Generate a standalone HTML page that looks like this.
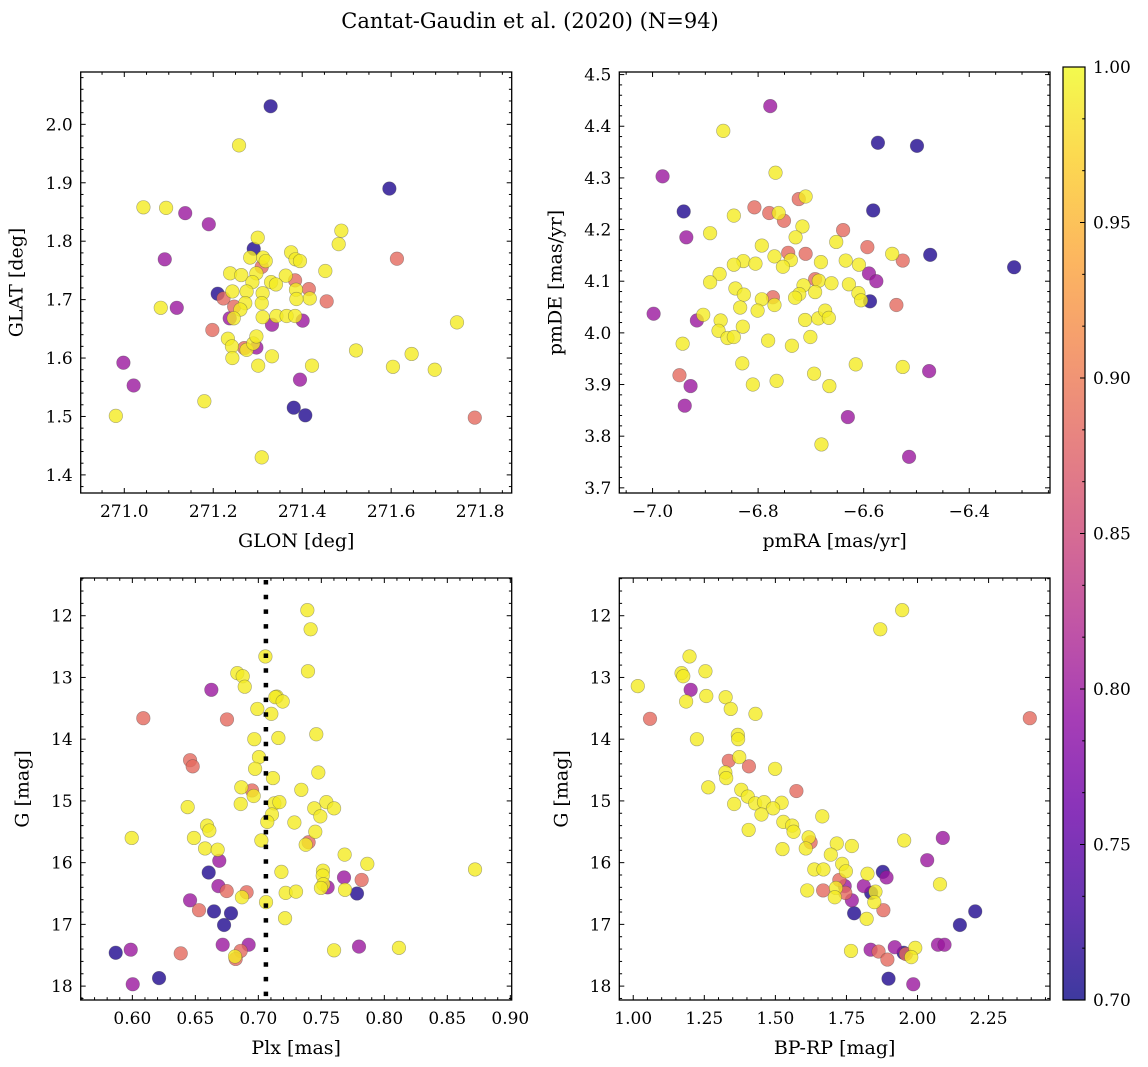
<!DOCTYPE html>
<html><head><meta charset="utf-8"><title>Cantat-Gaudin et al. (2020)</title>
<style>
html,body{margin:0;padding:0;background:#fff;}
svg{display:block;font-family:"DejaVu Serif","Liberation Serif",serif;}
</style></head>
<body>
<svg id="fig" width="1148" height="1067" viewBox="0 0 1148 1067" xmlns="http://www.w3.org/2000/svg">
<defs>
<linearGradient id="plasma" x1="0" y1="1" x2="0" y2="0">
<stop offset="0" stop-color="#0d0887"/><stop offset="0.1" stop-color="#41049d"/><stop offset="0.2" stop-color="#6a00a8"/><stop offset="0.3" stop-color="#8f0da4"/><stop offset="0.4" stop-color="#b12a90"/><stop offset="0.5" stop-color="#cc4778"/><stop offset="0.6" stop-color="#e16462"/><stop offset="0.7" stop-color="#f2844b"/><stop offset="0.8" stop-color="#fca636"/><stop offset="0.9" stop-color="#fcce25"/><stop offset="1" stop-color="#f0f921"/>
</linearGradient>
</defs>
<text x="530" y="28" font-size="21" text-anchor="middle">Cantat-Gaudin et al. (2020) (N=94)</text>
</svg>
<script>
// ---- data ----
const p1x=[271.329,271.258,271.596,271.043,271.094,271.137,271.190,271.488,271.482,271.300,271.291,271.091,271.613,271.283,271.312,271.318,271.375,271.385,271.395,271.452,271.238,271.263,271.297,271.309,271.363,271.384,271.330,271.341,271.288,271.386,271.415,271.455,271.417,271.387,271.210,271.223,271.243,271.275,271.311,271.309,271.272,271.247,271.261,271.082,271.118,271.237,271.246,271.311,271.332,271.342,271.365,271.384,271.401,271.198,271.233,271.242,271.270,271.275,271.297,271.290,271.297,271.243,271.332,271.301,271.422,271.395,271.521,271.604,271.646,271.698,271.748,270.998,271.021,271.180,270.981,271.381,271.407,271.309,271.788];
const p1y=[2.031,1.964,1.890,1.858,1.857,1.848,1.829,1.818,1.795,1.806,1.787,1.769,1.770,1.772,1.772,1.766,1.781,1.769,1.766,1.749,1.745,1.742,1.745,1.756,1.741,1.733,1.730,1.726,1.730,1.717,1.718,1.697,1.702,1.701,1.710,1.702,1.714,1.714,1.711,1.694,1.694,1.688,1.683,1.686,1.686,1.668,1.668,1.670,1.657,1.672,1.672,1.672,1.664,1.648,1.633,1.620,1.617,1.614,1.618,1.625,1.637,1.600,1.603,1.587,1.587,1.563,1.613,1.585,1.607,1.580,1.661,1.592,1.553,1.526,1.501,1.515,1.502,1.430,1.498];
const p1c=[.71,.99,.71,.99,.99,.80,.80,.99,.99,.99,.71,.80,.885,.99,.99,.99,.99,.99,.99,.99,.99,.99,.99,.885,.99,.885,.99,.99,.99,.99,.885,.885,.99,.99,.71,.885,.99,.99,.99,.99,.99,.885,.99,.99,.80,.80,.99,.99,.80,.99,.99,.99,.80,.885,.99,.99,.885,.99,.80,.99,.99,.99,.99,.99,.99,.80,.99,.99,.99,.99,.99,.80,.80,.99,.99,.71,.71,.99,.885];

const p2x=[-6.777,-6.866,-6.573,-6.499,-6.981,-6.767,-6.941,-6.582,-6.846,-6.807,-6.779,-6.761,-6.751,-6.723,-6.710,-6.716,-6.729,-6.891,-6.936,-6.639,-6.652,-6.593,-6.793,-6.743,-6.710,-6.769,-6.738,-6.753,-6.681,-6.634,-6.609,-6.546,-6.526,-6.474,-6.315,-6.590,-6.576,-6.828,-6.846,-6.805,-6.873,-6.891,-6.692,-6.685,-6.714,-6.661,-6.692,-6.722,-6.730,-6.843,-6.827,-6.772,-6.793,-6.769,-6.628,-6.610,-6.605,-6.588,-6.538,-6.834,-6.801,-6.998,-6.916,-6.904,-6.871,-6.875,-6.858,-6.846,-6.829,-6.711,-6.686,-6.673,-6.666,-6.701,-6.781,-6.736,-6.943,-6.830,-6.615,-6.526,-6.476,-6.694,-6.665,-6.765,-6.810,-6.949,-6.928,-6.939,-6.630,-6.680,-6.514];
const p2y=[4.439,4.391,4.368,4.362,4.303,4.310,4.235,4.237,4.227,4.243,4.232,4.232,4.217,4.259,4.264,4.206,4.185,4.193,4.185,4.199,4.176,4.166,4.169,4.155,4.153,4.148,4.141,4.128,4.137,4.140,4.132,4.153,4.140,4.151,4.127,4.115,4.100,4.139,4.132,4.134,4.114,4.098,4.104,4.101,4.092,4.096,4.079,4.075,4.068,4.086,4.074,4.069,4.065,4.054,4.094,4.077,4.063,4.061,4.054,4.049,4.043,4.037,4.024,4.035,4.024,4.004,3.990,3.992,4.012,4.025,4.028,4.043,4.029,3.992,3.985,3.975,3.979,3.941,3.939,3.934,3.926,3.921,3.897,3.907,3.900,3.918,3.897,3.859,3.837,3.784,3.760];
const p2c=[.80,.99,.71,.71,.80,.99,.71,.71,.99,.885,.885,.99,.885,.885,.99,.99,.99,.99,.80,.885,.99,.885,.99,.885,.885,.99,.99,.99,.99,.99,.99,.99,.885,.71,.71,.80,.80,.99,.99,.99,.99,.99,.885,.99,.99,.99,.99,.99,.99,.99,.99,.885,.99,.99,.99,.99,.99,.71,.885,.99,.99,.80,.80,.99,.99,.99,.99,.99,.99,.99,.99,.99,.99,.99,.99,.99,.99,.99,.99,.99,.80,.99,.99,.99,.99,.885,.80,.80,.80,.99,.80];

const p3x=[0.7389,0.7415,0.7056,0.7394,0.6833,0.6876,0.6892,0.6627,0.7146,0.7135,0.7193,0.6992,0.7103,0.6087,0.6751,0.6968,0.7159,0.7460,0.7005,0.6458,0.6479,0.6974,0.7476,0.7116,0.6865,0.6950,0.6963,0.7341,0.6860,0.6439,0.7127,0.7167,0.7444,0.7540,0.7601,0.7492,0.7108,0.7071,0.7286,0.7452,0.6593,0.6611,0.5995,0.6489,0.7024,0.7399,0.7376,0.6577,0.6677,0.6690,0.7685,0.7865,0.8720,0.6606,0.7183,0.7513,0.7511,0.7680,0.7820,0.7516,0.7550,0.7497,0.7688,0.7783,0.6683,0.6749,0.6907,0.6870,0.7217,0.7299,0.7061,0.6458,0.6529,0.6648,0.6783,0.6728,0.7212,0.5987,0.5868,0.6384,0.6717,0.6923,0.6860,0.6820,0.6815,0.7601,0.7799,0.8116,0.6212,0.6003];
const p3y=[11.91,12.22,12.66,12.90,12.93,12.98,13.15,13.20,13.31,13.32,13.39,13.51,13.59,13.66,13.68,14.00,13.98,13.92,14.29,14.34,14.44,14.48,14.54,14.63,14.78,14.83,14.92,14.82,15.05,15.10,15.04,15.02,15.12,15.02,15.12,15.25,15.22,15.34,15.35,15.50,15.40,15.48,15.60,15.60,15.64,15.67,15.71,15.77,15.79,15.97,15.87,16.02,16.11,16.16,16.15,16.13,16.21,16.24,16.28,16.35,16.40,16.41,16.44,16.50,16.38,16.46,16.48,16.56,16.49,16.47,16.64,16.61,16.77,16.79,16.82,17.01,16.90,17.41,17.46,17.47,17.33,17.33,17.43,17.56,17.52,17.42,17.36,17.38,17.87,17.97];
const p3c=[.99,.99,.99,.99,.99,.99,.99,.80,.99,.99,.99,.99,.99,.885,.885,.99,.99,.99,.99,.885,.885,.99,.99,.99,.99,.885,.99,.99,.99,.99,.99,.99,.99,.99,.99,.99,.99,.99,.99,.99,.99,.99,.99,.99,.99,.885,.99,.99,.99,.80,.99,.99,.99,.71,.99,.99,.99,.80,.885,.99,.80,.99,.99,.71,.80,.885,.885,.99,.99,.99,.99,.80,.885,.71,.71,.71,.99,.80,.71,.885,.80,.80,.885,.885,.99,.99,.80,.99,.71,.80];
const plxMean=0.706;

const p4x=[1.946,1.869,1.198,1.254,1.170,1.176,1.016,1.202,1.257,1.325,1.186,1.343,1.430,1.059,2.395,1.224,1.368,1.369,1.373,1.336,1.407,1.499,1.324,1.327,1.264,1.574,1.380,1.403,1.355,1.429,1.460,1.522,1.492,1.451,1.528,1.665,1.559,1.564,1.406,1.617,1.624,1.607,1.525,1.716,1.769,1.953,2.089,2.034,1.695,1.735,1.748,1.637,1.669,1.824,1.878,1.891,2.079,1.725,1.744,1.811,1.713,1.852,1.837,1.612,1.668,1.709,1.746,1.769,1.848,1.880,1.777,1.821,2.149,2.203,1.766,1.835,1.863,1.920,1.951,1.959,1.992,1.978,1.894,2.072,2.095,1.898,1.985];
const p4y=[11.91,12.22,12.66,12.90,12.93,12.98,13.14,13.20,13.30,13.32,13.39,13.51,13.59,13.67,13.66,14.00,13.93,14.00,14.29,14.35,14.44,14.48,14.54,14.63,14.78,14.84,14.82,14.93,15.05,15.04,15.02,15.03,15.12,15.22,15.34,15.25,15.40,15.50,15.47,15.59,15.67,15.77,15.78,15.69,15.73,15.64,15.60,15.96,15.87,16.02,16.14,16.11,16.11,16.18,16.15,16.24,16.35,16.28,16.38,16.38,16.41,16.47,16.49,16.45,16.45,16.56,16.49,16.61,16.64,16.77,16.82,16.91,17.01,16.79,17.43,17.41,17.44,17.37,17.46,17.48,17.38,17.53,17.57,17.33,17.33,17.88,17.97];
const p4c=[.99,.99,.99,.99,.99,.99,.99,.80,.99,.99,.99,.99,.99,.885,.885,.99,.99,.99,.99,.885,.885,.99,.99,.99,.99,.885,.99,.99,.99,.99,.99,.99,.99,.99,.99,.99,.99,.99,.99,.99,.885,.99,.99,.99,.99,.99,.80,.80,.99,.99,.99,.99,.99,.99,.71,.80,.99,.885,.80,.80,.99,.99,.71,.99,.885,.99,.885,.80,.99,.885,.71,.99,.71,.71,.99,.80,.885,.80,.71,.885,.99,.99,.885,.80,.80,.71,.80];

const tick1x=[271.0,271.2,271.4,271.6,271.8], tick1xLab=["271.0","271.2","271.4","271.6","271.8"];
const tick1y=[1.4,1.5,1.6,1.7,1.8,1.9,2.0], tick1yLab=["1.4","1.5","1.6","1.7","1.8","1.9","2.0"];
const tick2x=[-7.0,-6.8,-6.6,-6.4], tick2xLab=["\u22127.0","\u22126.8","\u22126.6","\u22126.4"];
const tick2y=[3.7,3.8,3.9,4.0,4.1,4.2,4.3,4.4,4.5], tick2yLab=["3.7","3.8","3.9","4.0","4.1","4.2","4.3","4.4","4.5"];
const tick3x=[0.60,0.65,0.70,0.75,0.80,0.85,0.90], tick3xLab=["0.60","0.65","0.70","0.75","0.80","0.85","0.90"];
const tickGy=[12,13,14,15,16,17,18], tickGyLab=["12","13","14","15","16","17","18"];
const tick4x=[1.00,1.25,1.50,1.75,2.00,2.25], tick4xLab=["1.00","1.25","1.50","1.75","2.00","2.25"];
const cbTicks=[0.70,0.75,0.80,0.85,0.90,0.95,1.00], cbLab=["0.70","0.75","0.80","0.85","0.90","0.95","1.00"];

// ---- colormap ----
const stops=[[13,8,135],[65,4,157],[106,0,168],[143,13,164],[177,42,144],[204,71,120],[225,100,98],[242,132,75],[252,166,54],[252,206,37],[240,249,33]];
function plasma(v){let t=(v-0.7)/0.3;t=Math.max(0,Math.min(1,t));const f=t*10,i=Math.min(9,Math.floor(f)),r=f-i;
 const a=stops[i],b=stops[i+1];return 'rgb('+a.map((c,k)=>Math.round(c+(b[k]-c)*r)).join(',')+')';}

const NS='http://www.w3.org/2000/svg';
const svg=document.getElementById('fig');
function mk(tag,attrs,parent){const e=document.createElementNS(NS,tag);for(const k in attrs)e.setAttribute(k,attrs[k]);(parent||svg).appendChild(e);return e;}

function panel(o){
 const g=mk('g',{});
 
 
 const L=o.L,R=o.R,T=o.T,B=o.B;
 const sx=v=>L+(v-o.x0)/(o.x1-o.x0)*(R-L);
 const sy=v=>o.inv? T+(v-o.y0)/(o.y1-o.y0)*(B-T) : B-(v-o.y0)/(o.y1-o.y0)*(B-T);
 const idx=o.xs.map((_,i)=>i).sort((a,b)=>o.cs[a]-o.cs[b]);
 const pg=mk('g',{},g);
 
 
 idx.forEach(i=>{
  const c=mk('circle',{cx:sx(o.xs[i]).toFixed(2),cy:sy(o.ys[i]).toFixed(2),r:6.8,fill:plasma(o.cs[i]),'fill-opacity':0.8,stroke:'#444','stroke-opacity':0.45,'stroke-width':0.6},pg);
  
  
 });
 if(o.vline!==undefined){
  const ln=mk('line',{x1:sx(o.vline),x2:sx(o.vline),y1:T+2,y2:B,stroke:'#000','stroke-width':4.5,'stroke-dasharray':'4.5 10.2'},g);
  
  
 }
 const tg=mk('g',{stroke:'#000','stroke-width':1},g);
 
 
 const eps=1e-9;
 for(let v=Math.ceil(o.x0/o.xm-eps)*o.xm; v<=o.x1+eps; v+=o.xm){
  const x=sx(v), major=o.xt.some(t=>Math.abs(t-v)<o.xm/3), len=major?5:2.8;
  mk('line',{x1:x,x2:x,y1:B,y2:B-len},tg);mk('line',{x1:x,x2:x,y1:T,y2:T+len},tg);
 }
 for(let v=Math.ceil(o.y0/o.ym-eps)*o.ym; v<=o.y1+eps; v+=o.ym){
  const y=sy(v), major=o.yt.some(t=>Math.abs(t-v)<o.ym/3), len=major?5:2.8;
  mk('line',{x1:L,x2:L+len,y1:y,y2:y},tg);mk('line',{x1:R,x2:R-len,y1:y,y2:y},tg);
 }
 const fr=mk('rect',{x:L,y:T,width:R-L,height:B-T,fill:'none',stroke:'#000','stroke-width':1.3},g);
 
 
 o.xt.forEach((v,i)=>{const t=mk('text',{x:sx(v),y:B+24,'font-size':17,'text-anchor':'middle'},g);t.textContent=o.xl[i];
  
  });
 o.yt.forEach((v,i)=>{const t=mk('text',{x:L-8,y:sy(v)+6,'font-size':17,'text-anchor':'end'},g);t.textContent=o.yl[i];
  
  });
 const xt=mk('text',{x:(L+R)/2,y:B+54,'font-size':19,'text-anchor':'middle'},g);xt.textContent=o.xtitle;
 
 
 const yx=L-o.ylOff, yy=(T+B)/2;
 const yt=mk('text',{x:yx,y:yy,'font-size':19,'text-anchor':'middle',transform:'rotate(-90 '+yx+' '+yy+')'},g);yt.textContent=o.ytitle;
 
 
}

panel({name:'glon-glat-panel',L:80.7,R:511.7,T:72,B:493,x0:270.902,x1:271.871,y0:1.369,y1:2.0896,xm:0.05,ym:0.02,
 xt:tick1x,xl:tick1xLab,yt:tick1y,yl:tick1yLab,xs:p1x,ys:p1y,cs:p1c,xtitle:'GLON [deg]',ytitle:'GLAT [deg]',ylOff:58});
panel({name:'proper-motion-panel',L:619.3,R:1050,T:72,B:493,x0:-7.063,x1:-6.247,y0:3.690,y1:4.505,xm:0.05,ym:0.02,
 xt:tick2x,xl:tick2xLab,yt:tick2y,yl:tick2yLab,xs:p2x,ys:p2y,cs:p2c,xtitle:'pmRA [mas/yr]',ytitle:'pmDE [mas/yr]',ylOff:58});
panel({name:'parallax-magnitude-panel',L:80.7,R:511.7,T:578,B:1000,x0:0.559,x1:0.9011,y0:11.389,y1:18.225,inv:true,xm:0.01,ym:0.2,
 xt:tick3x,xl:tick3xLab,yt:tickGy,yl:tickGyLab,xs:p3x,ys:p3y,cs:p3c,vline:plxMean,xtitle:'Plx [mas]',ytitle:'G [mag]',ylOff:52});
panel({name:'color-magnitude-panel',L:619.3,R:1050,T:578,B:1000,x0:0.951,x1:2.466,y0:11.389,y1:18.225,inv:true,xm:0.05,ym:0.2,
 xt:tick4x,xl:tick4xLab,yt:tickGy,yl:tickGyLab,xs:p4x,ys:p4y,cs:p4c,xtitle:'BP-RP [mag]',ytitle:'G [mag]',ylOff:52});

(function(){
 const cg=mk('g',{});
 
 
 const X0=1063,X1=1085,T=67,B=1000;
 const cy=v=>B-(v-0.70)/0.30*(B-T);
 mk('rect',{x:X0,y:T,width:X1-X0,height:B-T,fill:'url(#plasma)','fill-opacity':0.8},cg);
 for(let k=0;k<=18;k++){const v=0.70+k*0.05/3;const y=cy(v);const major=k%3===0;
  mk('line',{x1:X1,x2:X1-(major?5:2.8),y1:y,y2:y,stroke:'#000','stroke-width':1},cg);}
 mk('rect',{x:X0,y:T,width:X1-X0,height:B-T,fill:'none',stroke:'#000','stroke-width':1.2},cg);
 cbTicks.forEach((v,i)=>{const t=mk('text',{x:X1+8,y:cy(v)+6,'font-size':17},cg);t.textContent=cbLab[i];
  
  });
})();
</script>
</body></html>
